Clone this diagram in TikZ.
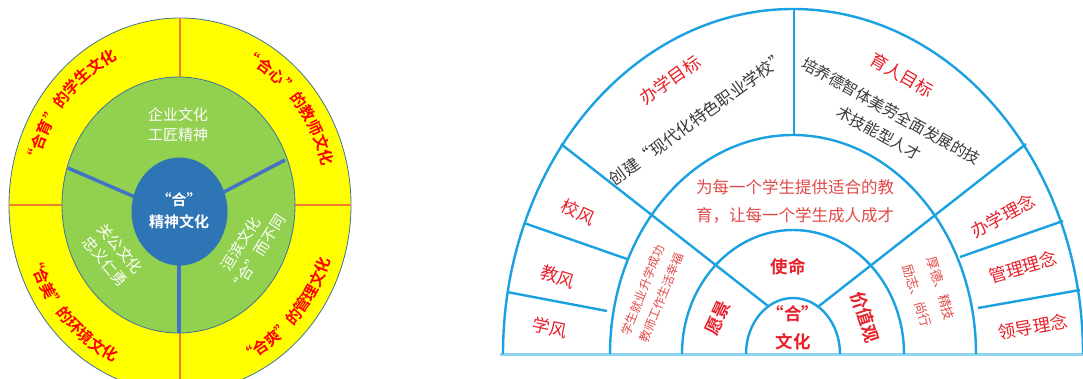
\documentclass[tikz,border=0pt]{standalone}
\usepackage{fontspec}
\usetikzlibrary{decorations.text}
\setmainfont{Noto Sans CJK SC}[BoldFont={Noto Sans CJK SC Bold}]
\definecolor{ylw}{HTML}{FFFF00}
\definecolor{org}{HTML}{ED7D31}
\definecolor{grn}{HTML}{92D050}
\definecolor{blu}{HTML}{2E75B6}
\definecolor{spk}{HTML}{4472C4}
\definecolor{edg}{HTML}{41719C}
\definecolor{cyn}{HTML}{1BA1E2}
\definecolor{pale}{HTML}{8FD4EE}
\definecolor{rd}{HTML}{E8202A}
\definecolor{lrd}{HTML}{E24A4A}
\definecolor{gry}{HTML}{3A3A3A}
\newcommand{\yfont}{\bfseries\fontsize{15.5}{18}\selectfont}
\tikzset{
  ycurve/.style={decorate, decoration={text along path, text align=center, text color=red, text={|\yfont|#1}}},
  wtext/.style={text=white, inner sep=0, align=center, font=\fontsize{15}{20}\selectfont},
  ctext/.style={text=white, inner sep=0, align=center, font=\bfseries\fontsize{15}{22}\selectfont},
  rtext/.style={text=rd, inner sep=0, font=\fontsize{17.5}{20}\selectfont},
  rbtext/.style={text=rd, inner sep=0, align=center, font=\bfseries\fontsize{17.5}{28}\selectfont},
  gtext/.style={text=gry, inner sep=0, align=center, font=\fontsize{16.5}{25}\selectfont},
  ltext/.style={text=lrd, inner sep=0, align=center, font=\fontsize{16.5}{28}\selectfont},
  stext/.style={text=lrd, inner sep=0, align=center, font=\fontsize{12}{20}\selectfont},
  ring/.style={draw=cyn, line width=2.4pt},
  div/.style={draw=cyn, line width=2.4pt},
  orgline/.style={draw=org, line width=2.6pt},
  spoke/.style={draw=spk, line width=3.5pt}
}
\begin{document}
\begin{tikzpicture}[x=1pt,y=-1pt]
\useasboundingbox (0,0) rectangle (1083,378);
\clip (0,0) rectangle (1083,378);
\fill[white] (0,0) rectangle (1083,378);
% ---------------- left diagram ----------------
\coordinate (O) at (180,205);
\fill[ylw, draw=edg, line width=0.8pt] (O) ellipse [x radius=171pt, y radius=187pt];
\draw[orgline] (180,18) -- (180,80);
\draw[orgline] (180,330) -- (180,392);
\draw[orgline] (9,205) -- (65,205);
\draw[orgline] (292,205) -- (351,205);
\fill[grn, draw=edg, line width=0.8pt] (178.5,205) ellipse [x radius=116.5pt, y radius=128pt];
\draw[spoke] (68,168) -- (135,197);
\draw[spoke] (285,160) -- (222,193);
\draw[spoke] (179,260) -- (179,333);
\fill[blu] (179.5,211.5) ellipse [x radius=48pt, y radius=54pt];
\path[ycurve={“合育”的学生文化}] (O) ++(178:147pt and 161pt) arc[start angle=178, end angle=102, x radius=147pt, y radius=161pt];
\path[ycurve={“合心”的教师文化}] (O) ++(78:147pt and 161pt) arc[start angle=78, end angle=2, x radius=147pt, y radius=161pt];
\path[ycurve={“合美”的环境文化}] (O) ++(184:159pt and 173pt) arc[start angle=184, end angle=260, x radius=159pt, y radius=173pt];
\path[ycurve={“合爽”的管理文化}] (O) ++(279:159pt and 173pt) arc[start angle=279, end angle=355, x radius=159pt, y radius=173pt];
\node[wtext] (g1) at (178,125) {企业文化\\工匠精神};
\node[wtext, rotate=-50] (g2) at (113,255) {关公文化\\忠义仁勇};
\node[wtext, rotate=58] (g3) at (249,249) {洹滨文化\\“合”而不同};
\node[ctext] (gc) at (179,211) {“合”\\精神文化};
% ---------------- right diagram ----------------
\draw[pale, line width=3pt] (500,354) -- (1083,354);
\draw[ring] (503,354) arc[start angle=180, end angle=0, x radius=290pt, y radius=345pt];
\draw[ring] (610,354) arc[start angle=180, end angle=0, x radius=183pt, y radius=219pt];
\draw[ring] (682,354) arc[start angle=180, end angle=0, x radius=111pt, y radius=124pt];
\draw[ring] (746,354) arc[start angle=180, end angle=0, x radius=47pt, y radius=56pt];
\draw[div] (794,10) -- (794,135);
\draw[div] (561,144) -- (768,306);
\draw[div] (1026,144) -- (819,306);
\draw[div] (524,223) -- (627,259);
\draw[div] (507,292) -- (607,311);
\draw[div] (960,257) -- (1063,221);
\draw[div] (978,308) -- (1080,290);
\node[rtext, rotate=35] (a1) at (670,80) {办学目标};
\node[gtext, rotate=36] (a2) at (698,118) {创建“现代化特色职业学校”};
\node[rtext, rotate=-30] (b1) at (902,75) {育人目标};
\node[gtext, rotate=-29, font=\fontsize{15.5}{25}\selectfont] (b2) at (885,122) {培养德智体美劳全面发展的技\\术技能型人才};
\node[ltext] (m1) at (795,201) {为每一个学生提供适合的教\\育，让每一个学生成人成才};
\node[rtext, rotate=-25] (f1) at (578,212) {校风};
\node[rtext, rotate=-18] (f2) at (558,277) {教风};
\node[rtext, rotate=-12] (f3) at (550,328) {学风};
\node[stext, rotate=68] (s1) at (652,294) {学生就业升学成功\\教师工作生活幸福};
\node[rbtext, rotate=65] (v1) at (718,318) {愿景};
\node[rbtext] (v2) at (788,267) {使命};
\node[rbtext, rotate=-72] (v3) at (865,317) {价值观};
\node[rbtext] (v4) at (793,328) {“合”\\文化};
\node[stext, rotate=-73, font=\fontsize{13}{25}\selectfont] (s2) at (929,292) {厚德、精技\\励志、尚行};
\node[rtext, rotate=28] (l1) at (1003,216) {办学理念};
\node[rtext, rotate=16] (l2) at (1023,267) {管理理念};
\node[rtext, rotate=10] (l3) at (1033,327) {领导理念};
\end{tikzpicture}
\end{document}
